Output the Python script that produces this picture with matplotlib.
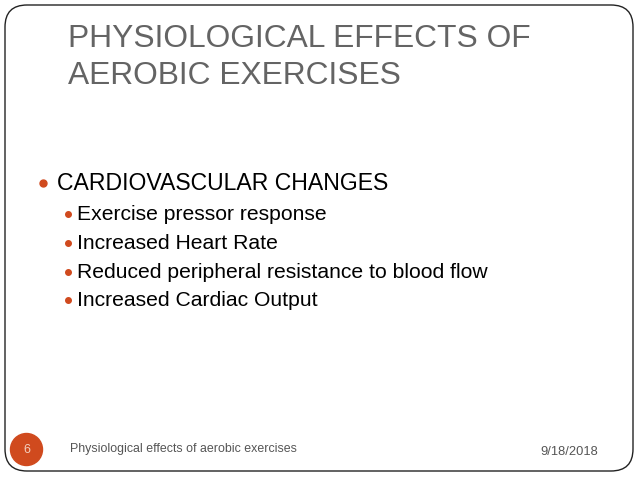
import matplotlib
matplotlib.use('Agg')
import matplotlib.pyplot as plt
from matplotlib.patches import FancyBboxPatch, Circle

plt.rcParams['font.family'] = ['Liberation Sans', 'DejaVu Sans']

title_lines = ['PHYSIOLOGICAL EFFECTS OF', 'AEROBIC EXERCISES']
main_item = 'CARDIOVASCULAR CHANGES'
sub_items = ['Exercise pressor response',
             'Increased Heart Rate',
             'Reduced peripheral resistance to blood flow',
             'Increased Cardiac Output']
footer_text = 'Physiological effects of aerobic exercises'
slide_no = '6'
date_text = '9/18/2018'

accent = '#D04A1E'
title_col = '#646464'

fig = plt.figure(figsize=(6.38, 4.79), dpi=100)
ax = fig.add_axes([0, 0, 1, 1])
ax.set_xlim(0, 638)
ax.set_ylim(479, 0)
ax.axis('off')

# slide frame
frame = FancyBboxPatch((5, 5), 628, 466, boxstyle='round,pad=0,rounding_size=22',
                       fill=False, edgecolor='#222222', linewidth=1.0)
ax.add_patch(frame)

# title
for i, line in enumerate(title_lines):
    ax.text(68, 47 + i * 37, line, fontsize=22.9, color=title_col,
            ha='left', va='baseline')

# main bullet
ax.plot(43, 183, 'o', color=accent, markersize=5)
ax.text(57, 190.5, main_item, fontsize=16.6, color='black', ha='left', va='baseline')

# sub bullets
for i, item in enumerate(sub_items):
    y = 220 + i * 28.8
    ax.plot(67.5, y - 6, 'o', color=accent, markersize=4)
    ax.text(77, y, item, fontsize=15.2, color='black', ha='left', va='baseline')

# footer
ax.add_patch(Circle((26.5, 449.5), 16, color=accent))
ax.text(26.5, 450, slide_no, fontsize=9, color='#f3d0c0', ha='center', va='center')
ax.text(70, 452, footer_text, fontsize=8.9, color='#555555', ha='left', va='baseline')
ax.text(598, 455, date_text, fontsize=9.3, color='#555555', ha='right', va='baseline')

fig.savefig('out.png', dpi=100)
